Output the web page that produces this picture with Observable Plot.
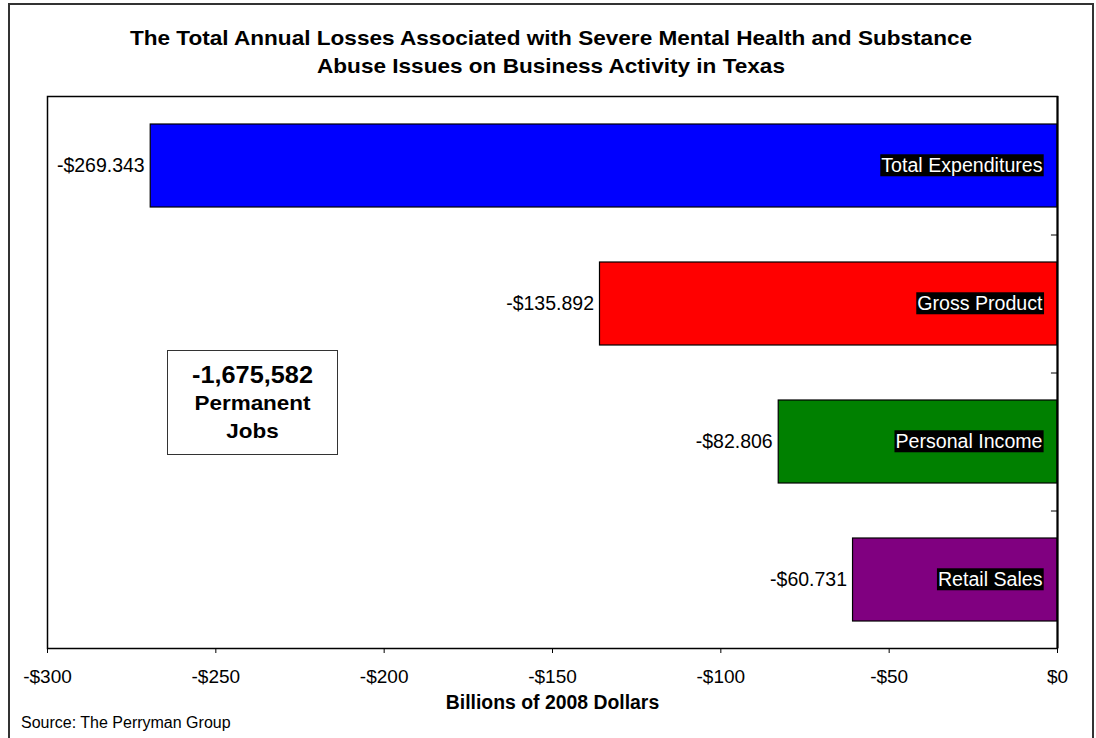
<!DOCTYPE html>
<html><head><meta charset="utf-8">
<script src="https://cdn.jsdelivr.net/npm/d3@7"></script>
<script src="https://cdn.jsdelivr.net/npm/@observablehq/plot@0.6"></script>
<style>
body{margin:0;background:#fff;font-family:'Liberation Sans',Arial,sans-serif;color:#000;}
#wrap{position:relative;width:1096px;height:738px;overflow:hidden;background:#fff;}
#chart{position:absolute;left:0;top:0;}
#border{position:absolute;left:8px;top:3px;width:1086px;height:780px;border:2px solid #333;box-sizing:border-box;pointer-events:none;}
#title{position:absolute;left:0;width:1102px;top:24px;text-align:center;font-weight:bold;font-size:21px;line-height:28px;transform:scaleX(1.075);transform-origin:551px 0;}
#jobs{position:absolute;left:167px;top:350px;width:171px;height:105px;border:1px solid #333;box-sizing:border-box;background:#fff;text-align:center;font-weight:bold;padding-top:10px;}
#jobs .n{font-size:23px;line-height:28px;transform:scaleX(1.1);}
#jobs .l{font-size:21px;line-height:28px;transform:scaleX(1.07);}
#source{position:absolute;left:21px;top:713px;font-size:16px;line-height:19px;}
</style></head>
<body>
<div id="wrap">
  <div id="chart"></div>
  <div id="border"></div>
  <div id="title">The Total Annual Losses Associated with Severe Mental Health and Substance<br>Abuse Issues on Business Activity in Texas</div>
  <div id="jobs"><div class="n" id="jobsNum"></div><div class="l">Permanent</div><div class="l">Jobs</div></div>
  <div id="source">Source: The Perryman Group</div>
</div>
<script>
const categories = ["Total Expenditures", "Gross Product", "Personal Income", "Retail Sales"];
const values = [-269.343, -135.892, -82.806, -60.731];
const barColors = ["#0000ff", "#ff0000", "#008000", "#800080"];
const xTicks = [-300, -250, -200, -150, -100, -50, 0];
const permanentJobs = -1675582;
const axisTitle = "Billions of 2008 Dollars";

const data = categories.map((c, i) => ({category: c, value: values[i]}));
const money = v => (v < 0 ? "-" : "") + "$" + Math.abs(v);
const money3 = v => (v < 0 ? "-" : "") + "$" + Math.abs(v).toFixed(3);

document.getElementById("jobsNum").textContent = d3.format(",")(permanentJobs).replace("−", "-");

const chart = Plot.plot({
  width: 1096, height: 738,
  marginLeft: 47, marginRight: 39, marginTop: 96, marginBottom: 90,
  style: {background: "transparent", fontFamily: "'Liberation Sans', Arial, sans-serif", fontSize: "19px", color: "black", overflow: "visible"},
  x: {domain: [-300, 0]},
  y: {domain: categories, type: "band", paddingInner: 0.4, paddingOuter: 0.2, axis: null},
  color: {domain: categories, range: barColors},
  marks: [
    Plot.frame({stroke: "black", strokeWidth: 1.5}),
    Plot.barX(data, {x: "value", y: "category", fill: "category", stroke: "black", strokeWidth: 1.2}),
    Plot.ruleY(categories.slice(0, 3), {y: d => d, x1: -1.8, x2: 0, dy: 69, stroke: "black"}),
    Plot.ruleX([0], {stroke: "black", strokeWidth: 2}),
    Plot.axisX({ticks: xTicks, tickFormat: money, tickSize: 5, tickPadding: 16, label: null}),
    Plot.text(data, {x: "value", y: "category", text: d => money3(d.value), textAnchor: "end", dx: -6, fontSize: 19.5}),
    Plot.text(data, {x: 0, y: "category", text: "category", textAnchor: "end", dx: -15, fill: "white", fontSize: 19.6}),
    Plot.text([axisTitle], {frameAnchor: "bottom", dy: 60, fontWeight: "bold", fontSize: 19.4})
  ]
});
document.getElementById("chart").append(chart);

chart.querySelectorAll('g[fill="white"] text').forEach(t => {
  const b = t.getBBox();
  const r = document.createElementNS("http://www.w3.org/2000/svg", "rect");
  r.setAttribute("x", b.x - 1);
  r.setAttribute("y", b.y);
  r.setAttribute("width", b.width + 2);
  r.setAttribute("height", b.height);
  r.setAttribute("fill", "black");
  r.setAttribute("stroke", "none");
  const tr = t.getAttribute("transform");
  if (tr) r.setAttribute("transform", tr);
  t.parentNode.insertBefore(r, t);
});
</script>
</body></html>
